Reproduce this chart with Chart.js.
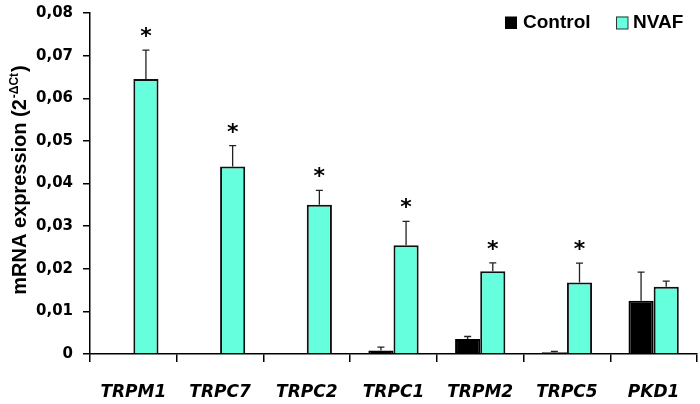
<!DOCTYPE html>
<html>
<head>
<meta charset="utf-8">
<script src="https://cdn.jsdelivr.net/npm/chart.js@4.4.0/dist/chart.umd.min.js"></script>
<style>
html,body{margin:0;padding:0;background:#fff;}
#wrap{width:700px;height:404px;position:relative;}
</style>
</head>
<body>
<div id="wrap"><canvas id="c" width="700" height="404"></canvas></div>
<script>
const categories = ['TRPM1','TRPC7','TRPC2','TRPC1','TRPM2','TRPC5','PKD1'];
const controlValues = [0, 0, 0.0002, 0.0008, 0.0035, 0.0004, 0.0125];
const controlErrors = [0, 0, 0, 0.0008, 0.0006, 0.0002, 0.0067];
const nvafValues = [0.0645, 0.0440, 0.0350, 0.0255, 0.0194, 0.0168, 0.0158];
const nvafErrors = [0.0068, 0.0049, 0.0034, 0.0056, 0.0020, 0.0045, 0.0013];
const significant = [true, true, true, true, true, true, false];
const yTicks = [0, 0.01, 0.02, 0.03, 0.04, 0.05, 0.06, 0.07, 0.08];
const seriesNames = ['Control', 'NVAF'];

const NVAF_COLOR = '#66ffdd';

const overlay = {
  id: 'overlay',
  afterDatasetsDraw(chart) {
    const ctx = chart.ctx;
    const y = chart.scales.y;
    const errs = [controlErrors, nvafErrors];
    ctx.save();
    ctx.strokeStyle = '#222';
    ctx.lineWidth = 1.3;
    [0, 1].forEach(di => {
      const meta = chart.getDatasetMeta(di);
      meta.data.forEach((bar, i) => {
        const v = chart.data.datasets[di].data[i];
        const e = errs[di][i];
        if (!e) return;
        const yTop = y.getPixelForValue(v + e);
        const yBar = y.getPixelForValue(v);
        ctx.beginPath();
        ctx.moveTo(bar.x, yBar);
        ctx.lineTo(bar.x, yTop);
        ctx.moveTo(bar.x - 3.5, yTop);
        ctx.lineTo(bar.x + 3.5, yTop);
        ctx.stroke();
        if (di === 1 && significant[i]) {
          ctx.fillStyle = '#000';
          ctx.font = 'bold 22px "DejaVu Sans"';
          ctx.textAlign = 'center';
          ctx.textBaseline = 'alphabetic';
          ctx.fillText('*', bar.x, yTop - 7);
        }
      });
    });
    ctx.restore();
  },
  afterDraw(chart) {
    const ctx = chart.ctx;
    ctx.save();
    // y axis title with superscript
    ctx.translate(26, 181);
    ctx.rotate(-Math.PI / 2);
    ctx.fillStyle = '#000';
    ctx.textBaseline = 'alphabetic';
    const mainFont = 'bold 20px "Liberation Sans"';
    const supFont = 'bold 12px "Liberation Sans"';
    const t1 = 'mRNA expression (2';
    const t2 = '-ΔCt';
    const t3 = ')';
    ctx.font = mainFont; const w1 = ctx.measureText(t1).width; const w3 = ctx.measureText(t3).width;
    ctx.font = supFont; const w2 = ctx.measureText(t2).width;
    let x0 = -(w1 + w2 + w3) / 2;
    ctx.textAlign = 'left';
    ctx.font = mainFont; ctx.fillText(t1, x0, 0);
    ctx.font = supFont; ctx.fillText(t2, x0 + w1 + 1, -8);
    ctx.font = mainFont; ctx.fillText(t3, x0 + w1 + w2 + 2, 0);
    ctx.restore();

    // legend
    ctx.save();
    ctx.font = 'bold 19px "Liberation Sans"';
    ctx.textBaseline = 'middle';
    ctx.textAlign = 'left';
    ctx.fillStyle = '#000';
    ctx.fillRect(505, 16.5, 12, 12.5);
    ctx.fillText(seriesNames[0], 523, 23);
    ctx.fillStyle = NVAF_COLOR;
    ctx.fillRect(616, 16.5, 12, 12.5);
    ctx.strokeStyle = '#333';
    ctx.lineWidth = 1;
    ctx.strokeRect(616.5, 17, 11.5, 12);
    ctx.fillStyle = '#000';
    ctx.fillText(seriesNames[1], 633, 23);
    ctx.restore();
  }
};

new Chart(document.getElementById('c'), {
  type: 'bar',
  data: {
    labels: categories,
    datasets: [
      { label: seriesNames[0], data: controlValues, backgroundColor: '#000', borderColor: '#000', borderWidth: 2,
        categoryPercentage: 0.58, barPercentage: 1.0 },
      { label: seriesNames[1], data: nvafValues, backgroundColor: NVAF_COLOR, borderColor: '#111', borderWidth: 2,
        categoryPercentage: 0.58, barPercentage: 1.0 }
    ]
  },
  options: {
    responsive: false,
    animation: false,
    layout: { padding: { top: 13, right: 3, left: 0, bottom: 0 } },
    plugins: { legend: { display: false }, tooltip: { enabled: false } },
    scales: {
      x: {
        grid: { display: true, drawOnChartArea: false, drawTicks: true, tickLength: 8, color: '#000', offset: true, lineWidth: 1.5 },
        border: { display: true, color: '#000', width: 1.5 },
        ticks: { color: '#000', font: { family: 'DejaVu Sans', weight: 'bold', style: 'italic', size: 17 }, padding: 20, maxRotation: 0, autoSkip: false },
        afterFit(scale) { scale.height = 50; scale.paddingLeft = 0; scale.paddingRight = 0; }
      },
      y: {
        min: 0, max: 0.08,
        afterBuildTicks(scale) { scale.ticks = yTicks.map(v => ({ value: v })); },
        grid: { display: true, drawOnChartArea: false, drawTicks: true, tickLength: 7, color: '#000', lineWidth: 1.5 },
        border: { display: true, color: '#000', width: 1.5 },
        ticks: {
          color: '#000', font: { family: 'DejaVu Sans', weight: 'bold', size: 15 }, padding: 10,
          callback: v => v === 0 ? '0' : v.toFixed(2).replace('.', ',')
        },
        afterFit(scale) { scale.width = 90; scale.paddingTop = 0; scale.paddingBottom = 0; }
      }
    }
  },
  plugins: [overlay]
});
</script>
</body>
</html>
